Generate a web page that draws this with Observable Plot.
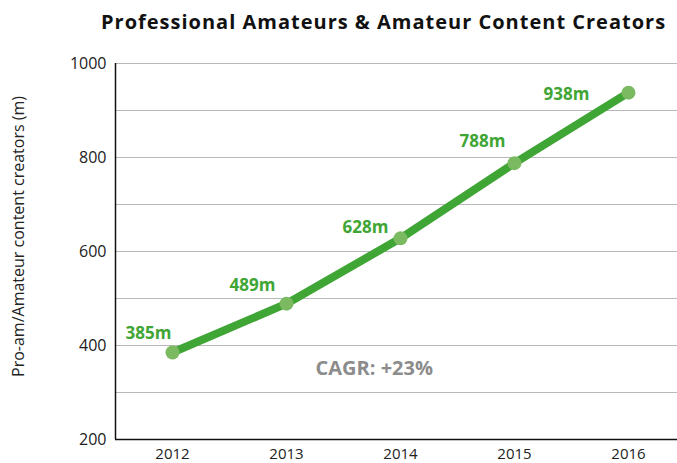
<!DOCTYPE html>
<html>
<head>
<meta charset="utf-8">
<script src="https://cdn.jsdelivr.net/npm/d3@7"></script>
<script src="https://cdn.jsdelivr.net/npm/@observablehq/plot@0.6"></script>
<style>
  body { margin: 0; background: #fff; }
  #wrap { position: relative; width: 677px; height: 463px; }
  #title { position: absolute; left: 101px; top: 8px; font: bold 20px "Open Sans", sans-serif; letter-spacing: 1px; color: #111; white-space: nowrap; }
  svg { display: block; }
</style>
</head>
<body>
<div id="wrap"><div id="title">Professional Amateurs &amp; Amateur Content Creators</div><div id="chart"></div></div>
<script>
const years = [2012, 2013, 2014, 2015, 2016];
const creators = [385, 489, 628, 788, 938];
const valueLabels = ["385m", "489m", "628m", "788m", "938m"];
const yTicks = [200, 400, 600, 800, 1000];
const gridTicks = [300, 400, 500, 600, 700, 800, 900, 1000];
const yLabel = "Pro-am/Amateur content creators (m)";
const cagrText = "CAGR: +23%";

const data = years.map((year, i) => ({year, value: creators[i], label: valueLabels[i]}));
const green = "#3fa535";
const dotGreen = "#7cba62";
const font = "'Open Sans', sans-serif";

// per-label offsets relative to their point
const offsets = [[-24, -19], [-34, -18], [-35, -11], [-32, -22], [-62, 2]];

const chart = Plot.plot({
  width: 677,
  height: 463,
  marginTop: 63,
  marginBottom: 24,
  marginLeft: 115,
  marginRight: 0,
  style: {fontFamily: font, background: "#fff", overflow: "visible"},
  x: {domain: [2011.5, 2016.43], axis: null},
  y: {domain: [200, 1000], axis: null},
  marks: [
    Plot.ruleY(gridTicks, {stroke: "#b8b8b8", strokeWidth: 1}),
    Plot.axisY(yTicks, {tickSize: 0, tickPadding: 9, fontSize: 16, fill: "#222", label: null, tickFormat: d3.format("d")}),
    Plot.axisX(years, {tickSize: 0, tickPadding: 9, fontSize: 15, fill: "#222", label: null, tickFormat: d => String(d)}),
    Plot.ruleY([200], {stroke: "#111", strokeWidth: 1.5}),
    Plot.ruleX([2011.5], {stroke: "#111", strokeWidth: 1.5}),
    Plot.line(data, {x: "year", y: "value", stroke: green, strokeWidth: 8}),
    Plot.dot(data, {x: "year", y: "value", r: 7, fill: dotGreen}),
    ...data.map((d, i) => Plot.text([d], {x: "year", y: "value", text: "label", dx: offsets[i][0], dy: offsets[i][1], fill: green, fontWeight: "bold", fontSize: 17})),
    Plot.text([cagrText], {x: 2013.77, y: 350, text: d => d, fill: "#8c8c8c", fontWeight: "bold", fontSize: 20}),
    Plot.text([yLabel], {frameAnchor: "left", textAnchor: "middle", text: d => d, rotate: -90, dx: -97, dy: -15, fontSize: 16, fill: "#222", style: "letter-spacing: 0.6px"})
  ]
});
document.getElementById("chart").appendChild(chart);
</script>
</body>
</html>
